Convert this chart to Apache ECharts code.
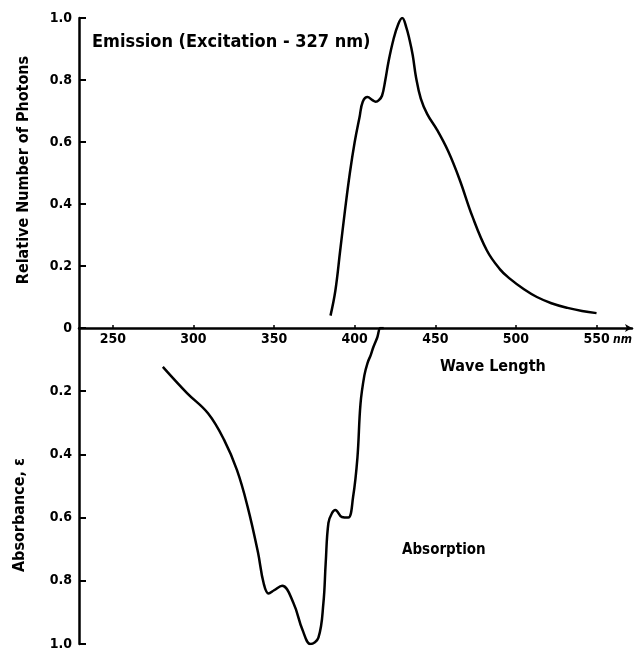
<!DOCTYPE html>
<html>
<head>
<meta charset="utf-8">
<script src="https://cdn.jsdelivr.net/npm/echarts@6/dist/echarts.min.js"></script>
<style>
html,body{margin:0;padding:0;background:#fff;}
#chart{width:642px;height:655px;}
</style>
</head>
<body>
<div id="chart"></div>
<script>
// Emission spectrum (relative number of photons), excitation 327 nm
const emissionWavelength = [385, 388, 391, 394, 397, 400, 403, 405, 408, 411, 413, 415, 417, 419, 421, 424, 427, 429.5, 432, 434, 436, 438, 441, 445, 451, 458, 465, 473, 482, 490, 496, 505, 513, 522, 532, 541, 550];
const emissionValue = [0.04, 0.12, 0.25, 0.38, 0.5, 0.6, 0.68, 0.73, 0.745, 0.735, 0.73, 0.735, 0.75, 0.8, 0.86, 0.93, 0.98, 1.0, 0.97, 0.93, 0.88, 0.81, 0.74, 0.69, 0.64, 0.57, 0.48, 0.36, 0.25, 0.19, 0.16, 0.125, 0.1, 0.08, 0.065, 0.055, 0.048];
// Absorption spectrum (absorbance, plotted downward)
const absorptionWavelength = [281, 296, 309, 319, 327, 333.6, 340, 343.5, 346.6, 350, 355, 362, 367.6, 372.6, 377.5, 380.6, 382, 383.7, 386, 388, 392, 396, 399, 401.7, 403.6, 406, 408, 410, 411.6, 414, 416, 418];
const absorptionValue = [0.123, 0.206, 0.27, 0.354, 0.45, 0.566, 0.71, 0.807, 0.84, 0.83, 0.816, 0.87, 0.955, 1.0, 0.98, 0.87, 0.745, 0.617, 0.585, 0.576, 0.598, 0.6, 0.535, 0.41, 0.24, 0.15, 0.11, 0.085, 0.06, 0.03, 0.0, 0.0];
const xTickValues = [250, 300, 350, 400, 450, 500, 550];
const emissionTicks = [0, 0.2, 0.4, 0.6, 0.8, 1];
const absorptionTicks = [0.2, 0.4, 0.6, 0.8, 1];

const FONT = '"Liberation Sans Narrow", "DejaVu Sans Condensed", "Liberation Sans", sans-serif';

const emissionData = emissionWavelength.map((w, i) => [w, emissionValue[i]]);
const absorptionData = absorptionWavelength.map((w, i) => [w, absorptionValue[i]]);

const fmt = v => (Math.abs(v) < 1e-9 ? '0' : v.toFixed(1));
const yLabel = {color: '#000', fontFamily: FONT, fontWeight: 'bold', fontSize: 14, margin: 7, formatter: fmt};

const chart = echarts.init(document.getElementById('chart'), null, {renderer: 'canvas'});
chart.setOption({
  backgroundColor: '#fff',
  animation: false,
  grid: [
    {left: 79, width: 553, top: 18, height: 310},
    {left: 79, width: 553, top: 328, height: 316}
  ],
  xAxis: [
    {
      gridIndex: 0, type: 'value', min: 229, max: 572, position: 'bottom',
      axisLine: {onZero: false, symbol: ['none', 'arrow'], symbolSize: [6, 7], lineStyle: {color: '#000', width: 2.5}},
      axisTick: {show: true, inside: true, length: 3, customValues: xTickValues, lineStyle: {color: '#000', width: 1.5}},
      axisLabel: {customValues: xTickValues, color: '#000', fontFamily: FONT, fontWeight: 'bold', fontSize: 14, margin: 4},
      splitLine: {show: false}
    },
    {
      gridIndex: 1, type: 'value', min: 229, max: 572, show: false
    }
  ],
  yAxis: [
    {
      gridIndex: 0, type: 'value', min: 0, max: 1,
      axisLine: {show: true, lineStyle: {color: '#000', width: 2.5}},
      axisTick: {show: true, inside: true, length: 7, customValues: emissionTicks, lineStyle: {color: '#000', width: 2}},
      axisLabel: Object.assign({customValues: emissionTicks}, yLabel),
      splitLine: {show: false}
    },
    {
      gridIndex: 1, type: 'value', min: 0, max: 1, inverse: true,
      axisLine: {show: true, lineStyle: {color: '#000', width: 2.5}},
      axisTick: {show: true, inside: true, length: 7, customValues: absorptionTicks, lineStyle: {color: '#000', width: 2}},
      axisLabel: Object.assign({customValues: absorptionTicks}, yLabel),
      splitLine: {show: false}
    }
  ],
  series: [
    {type: 'line', xAxisIndex: 0, yAxisIndex: 0, data: emissionData, smooth: 0.4, symbol: 'none', lineStyle: {color: '#000', width: 2.5}},
    {type: 'line', xAxisIndex: 1, yAxisIndex: 1, data: absorptionData, smooth: 0.4, symbol: 'none', lineStyle: {color: '#000', width: 2.5}}
  ],
  graphic: [
    {type: 'text', left: 92, top: 33, style: {text: 'Emission (Excitation - 327 nm)', font: 'bold 18px ' + FONT, fill: '#000'}},
    {type: 'text', left: 440, top: 359, style: {text: 'Wave Length', font: 'bold 16px ' + FONT, fill: '#000'}},
    {type: 'text', left: 402, top: 543, style: {text: 'Absorption', font: 'bold 15px ' + FONT, fill: '#000'}},
    {type: 'text', left: 613, top: 334, style: {text: 'nm', font: 'italic bold 12px ' + FONT, fill: '#000'}},
    {type: 'text', x: 24, y: 170, rotation: Math.PI / 2, style: {text: 'Relative Number of Photons', font: 'bold 16px ' + FONT, fill: '#000', align: 'center', verticalAlign: 'middle'}},
    {type: 'text', x: 20, y: 515, rotation: Math.PI / 2, style: {text: 'Absorbance, ε', font: 'bold 16px ' + FONT, fill: '#000', align: 'center', verticalAlign: 'middle'}}
  ]
});
</script>
</body>
</html>
